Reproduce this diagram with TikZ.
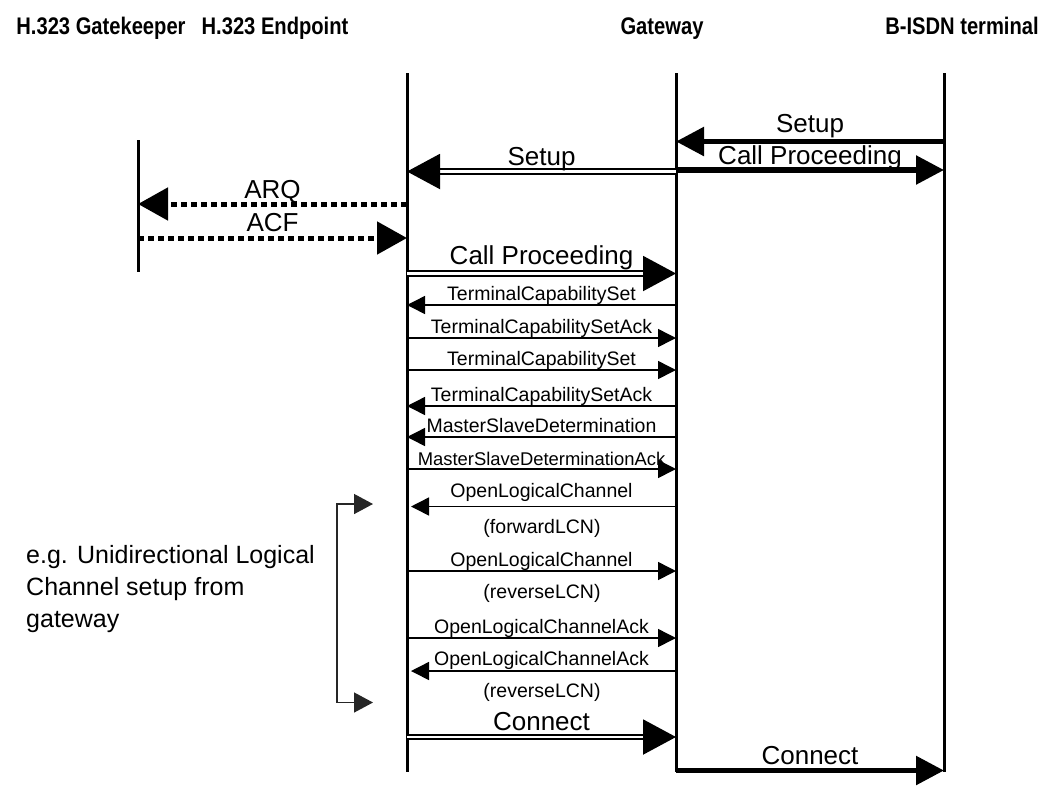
\documentclass[tikz,border=0pt]{standalone}
\usepackage{fontspec}
\setmainfont{Liberation Sans}
\newfontfamily\headfont[FakeStretch=0.84]{Liberation Sans Bold}
\usetikzlibrary{arrows.meta}

\tikzset{
  lifeline/.style={line width=3pt},
  bigmsg/.style={line width=5.5pt, -{Triangle[length=28pt,width=28pt]}},
  dblmsg/.style={double, line width=2pt, double distance=2.5pt, -{Triangle[length=33pt,width=35pt]}},
  dotmsg/.style={line width=5pt, dash pattern=on 6pt off 4pt, -{Triangle[length=30pt,width=32pt]}},
  thinmsg/.style={line width=1.5pt, -{Triangle[length=18pt,width=18pt]}},
  bigtxt/.style={font=\fontsize{26}{30}\selectfont, anchor=base, inner sep=0pt},
  smalltxt/.style={font=\fontsize{19.5}{23}\selectfont, anchor=base, inner sep=0pt},
  headtxt/.style={font=\headfont\fontsize{24}{28}\selectfont, anchor=base, inner sep=0pt},
}

\begin{document}
\begin{tikzpicture}[x=1pt, y=-1pt]
  \useasboundingbox (0,0) rectangle (1056,785);
  % entities
  \node[headtxt] (hgk) at (101,34) {H.323 Gatekeeper};
  \node[headtxt] (hep) at (275,34) {H.323 Endpoint};
  \node[headtxt] (hgw) at (662,34) {Gateway};
  \node[headtxt] (hbi) at (962,34) {B-ISDN terminal};
  \coordinate (gk) at (138,140); \coordinate (gkb) at (138,272);
  \coordinate (ep) at (407,73);  \coordinate (epb) at (407,772);
  \coordinate (gw) at (676,73);  \coordinate (gwb) at (676,772);
  \coordinate (bi) at (944,73);  \coordinate (bib) at (944,772);
  \foreach \a/\b in {gk/gkb, ep/epb, gw/gwb, bi/bib}
    \draw[lifeline] (\a) -- (\b);

  % call setup
  \draw[bigmsg] (bi |- 0,141.5) -- (gw |- 0,141.5) node[bigtxt, midway, yshift=9pt] {Setup};
  \draw[dblmsg] (gw |- 0,171.5) -- (ep |- 0,171.5) node[bigtxt, midway, yshift=6pt] {Setup};
  \draw[bigmsg] (gw |- 0,170) -- (bi |- 0,170) node[bigtxt, midway, yshift=6pt] {Call Proceeding};
  \draw[dotmsg] (ep |- 0,204) -- (gk |- 0,204) node[bigtxt, midway, yshift=6pt] {ARQ};
  \draw[dotmsg] (gk |- 0,238) -- (ep |- 0,238) node[bigtxt, midway, yshift=7pt] {ACF};
  \draw[dblmsg] (ep |- 0,273.5) -- (gw |- 0,273.5) node[bigtxt, midway, yshift=9pt] {Call Proceeding};

  % H.245 exchange
  \foreach \y/\a/\b/\t in {305/gw/ep/TerminalCapabilitySet, 338/ep/gw/TerminalCapabilitySetAck,
      370/ep/gw/TerminalCapabilitySet, 406/gw/ep/TerminalCapabilitySetAck,
      437/gw/ep/MasterSlaveDetermination, 571/ep/gw/OpenLogicalChannel,
      638/ep/gw/OpenLogicalChannelAck}
    \draw[thinmsg] (\a |- 0,\y) -- (\b |- 0,\y) node[smalltxt, midway, yshift=5pt] {\t};
  \draw[thinmsg] (ep |- 0,469) -- (gw |- 0,469)
    node[smalltxt, font=\fontsize{18.4}{22}\selectfont, midway, yshift=4pt] {MasterSlaveDeterminationAck};
  \draw[thinmsg, shorten >=4pt] (gw |- 0,506.5) -- (ep |- 0,506.5) node[smalltxt, midway, yshift=9pt] {OpenLogicalChannel};
  \draw[thinmsg, shorten >=4pt] (gw |- 0,671) -- (ep |- 0,671) node[smalltxt, midway, yshift=6pt] {OpenLogicalChannelAck};
  \node[smalltxt] (fwd) at (542,533) {(forwardLCN)};
  \node[smalltxt] (rev1) at (542,598) {(reverseLCN)};
  \node[smalltxt] (rev2) at (542,697) {(reverseLCN)};

  % connect
  \draw[dblmsg] (ep |- 0,737) -- (gw |- 0,737) node[bigtxt, midway, yshift=7pt] {Connect};
  \draw[bigmsg] (gw |- 0,770.5) -- (bi |- 0,770.5) node[bigtxt, midway, yshift=6pt] {Connect};

  % logical channel bracket
  \coordinate (btop) at (373,504); \coordinate (bbot) at (373,702.5);
  \draw[line width=1.4pt, black!85, {Triangle[length=19pt,width=20pt]}-{Triangle[length=19pt,width=20pt]}]
    (btop) -- (337,504) -- (337,702.5) -- (bbot);
  \node[font=\fontsize{25}{32}\selectfont, align=left, anchor=north west, inner sep=0pt] (note) at (26,545)
    {e.g. Unidirectional Logical\\Channel setup from\\gateway};
\end{tikzpicture}
\end{document}
